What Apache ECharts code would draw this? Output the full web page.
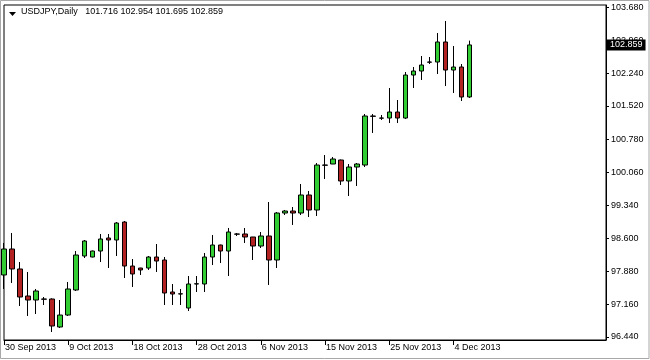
<!DOCTYPE html>
<html>
<head>
<meta charset="utf-8">
<script src="https://cdn.jsdelivr.net/npm/echarts@6/dist/echarts.min.js"></script>
<style>
html,body{margin:0;padding:0;background:#fff;}
#c{width:650px;height:360px;}
</style>
</head>
<body>
<div id="c"></div>
<script>
const symbolName = 'USDJPY,Daily';
const dates = [
 '30 Sep 2013',
 '1 Oct 2013','2 Oct 2013','3 Oct 2013','4 Oct 2013','6 Oct 2013','7 Oct 2013','8 Oct 2013','9 Oct 2013','10 Oct 2013','11 Oct 2013',
 '13 Oct 2013','14 Oct 2013','15 Oct 2013','16 Oct 2013','17 Oct 2013','18 Oct 2013','20 Oct 2013','21 Oct 2013','22 Oct 2013','23 Oct 2013',
 '24 Oct 2013','25 Oct 2013','27 Oct 2013','28 Oct 2013','29 Oct 2013','30 Oct 2013','31 Oct 2013',
 '1 Nov 2013','3 Nov 2013','4 Nov 2013','5 Nov 2013','6 Nov 2013','7 Nov 2013','8 Nov 2013','10 Nov 2013','11 Nov 2013','12 Nov 2013',
 '13 Nov 2013','14 Nov 2013','15 Nov 2013','17 Nov 2013','18 Nov 2013','19 Nov 2013','20 Nov 2013','21 Nov 2013','22 Nov 2013',
 '24 Nov 2013','25 Nov 2013','26 Nov 2013','27 Nov 2013','28 Nov 2013','29 Nov 2013',
 '1 Dec 2013','2 Dec 2013','3 Dec 2013','4 Dec 2013','5 Dec 2013','6 Dec 2013'
];
const opens = [97.803,98.374,97.935,97.341,97.253,97.275,97.275,96.660,96.923,97.473,
 98.220,98.198,98.330,98.616,98.572,98.967,98.000,97.956,97.956,98.198,
 98.132,97.429,97.385,97.077,97.605,97.605,98.198,98.462,98.330,98.704,
 98.704,98.638,98.440,98.660,98.132,99.165,99.209,99.165,99.561,99.231,
 100.220,100.242,100.330,99.869,100.176,100.220,101.297,101.253,101.253,101.385,
 101.253,102.198,102.286,102.484,102.484,102.924,102.308,102.374,101.716];
const closes = [98.374,97.935,97.319,97.253,97.451,97.270,96.682,96.923,97.495,98.242,
 98.550,98.330,98.594,98.572,98.945,98.000,97.825,97.913,98.198,98.110,
 97.407,97.385,97.390,97.605,97.610,98.198,98.462,98.330,98.748,98.700,
 98.638,98.440,98.660,98.132,99.165,99.209,99.165,99.561,99.231,100.220,
 100.215,100.352,99.869,100.176,100.242,101.297,101.290,101.250,101.385,101.253,
 102.198,102.286,102.418,102.480,102.924,102.308,102.374,101.715,102.859];
const lows = [97.495,97.627,97.121,96.902,96.945,97.143,96.550,96.638,96.902,97.451,
 98.176,98.190,98.088,97.956,98.220,97.737,97.539,97.803,97.913,97.869,
 97.143,97.143,97.143,97.011,97.429,97.429,98.022,98.066,97.781,98.660,
 98.506,98.132,98.396,97.583,97.956,99.121,98.902,99.121,99.077,99.099,
 99.913,100.240,99.781,99.539,99.759,100.176,100.924,101.209,101.143,101.143,
 101.231,101.913,102.088,102.440,102.220,101.956,101.803,101.627,101.695];
const highs = [98.506,98.726,98.088,97.869,97.495,97.319,97.290,97.253,97.649,98.330,
 98.572,98.340,98.704,98.704,98.967,98.990,98.154,97.960,98.220,98.484,
 98.198,97.605,97.495,97.781,97.781,98.286,98.682,98.470,98.836,98.726,
 98.836,98.640,98.748,99.407,99.187,99.231,99.297,99.803,99.649,100.264,
 100.440,100.396,100.340,100.242,100.264,101.341,101.341,101.319,101.913,101.649,
 102.264,102.374,102.616,102.594,103.121,103.385,102.836,102.440,102.954];
const priceTicks = [96.44,97.16,97.88,98.60,99.34,100.06,100.78,101.52,102.24,102.96,103.68];

const fmt = v => v.toFixed(3);
const last = dates.length - 1;
const ohlc = dates.map((d, i) => [opens[i], closes[i], lows[i], highs[i]]);
const labelStep = 8;
const FONT = 'Liberation Sans';

const chart = echarts.init(document.getElementById('c'), null, {renderer: 'canvas'});
chart.setOption({
  animation: false,
  backgroundColor: '#fff',
  title: {
    text: symbolName + '   ' + [opens[last], highs[last], lows[last], closes[last]].map(fmt).join(' '),
    left: 21, top: 7, padding: 0,
    textStyle: {fontFamily: FONT, fontSize: 9, fontWeight: 'normal', color: '#000'}
  },
  graphic: [
    {type: 'polygon', shape: {points: [[9,12],[16,12],[12.5,16]]}, style: {fill: '#000'}, silent: true},
    {type: 'rect', shape: {x: 0.5, y: 0.5, width: 648.5, height: 358}, style: {fill: 'none', stroke: '#a8a8a8', lineWidth: 1}, silent: true}
  ],
  grid: {left: 4, right: 44, top: 5, bottom: 20, show: true, borderColor: '#000', borderWidth: 1, backgroundColor: '#fff'},
  xAxis: {
    type: 'category',
    data: dates,
    boundaryGap: false,
    max: last + 17,
    axisLine: {show: true, lineStyle: {color: '#000', width: 1}},
    axisTick: {show: true, length: 5, lineStyle: {color: '#000'},
      interval: (idx) => idx % labelStep === 0 && idx <= last},
    axisLabel: {show: true, align: 'left', padding: [0,0,0,1], margin: 3,
      interval: (idx) => idx % labelStep === 0 && idx <= last,
      fontFamily: FONT, fontSize: 9, color: '#000'},
    splitLine: {show: false}
  },
  yAxis: {
    type: 'value',
    position: 'right',
    scale: true,
    min: 96.374,
    max: 103.737,
    axisLine: {show: true, lineStyle: {color: '#000', width: 1}},
    axisTick: {show: true, inside: false, length: 3, lineStyle: {color: '#000'}, customValues: priceTicks},
    axisLabel: {show: true, margin: 5, fontFamily: FONT, fontSize: 9, color: '#000',
      customValues: priceTicks, formatter: v => fmt(v)},
    splitLine: {show: false}
  },
  series: [{
    type: 'candlestick',
    data: ohlc,
    barWidth: 5,
    clip: true,
    itemStyle: {
      color: '#32CD32', color0: '#B22222',
      borderColor: '#000', borderColor0: '#000', borderColorDoji: '#000', borderWidth: 1
    },
    markLine: {
      silent: true,
      symbol: ['none','none'],
      precision: 3,
      lineStyle: {color: 'rgba(0,0,0,0)', width: 0, type: 'solid'},
      emphasis: {disabled: true},
      label: {show: true, position: 'end', distance: 1, formatter: () => fmt(closes[last]),
        backgroundColor: '#000', color: '#fff', fontFamily: FONT, fontSize: 9,
        padding: [1,3,1,3], lineHeight: 9},
      data: [{yAxis: closes[last]}]
    }
  }]
});
</script>
</body>
</html>
